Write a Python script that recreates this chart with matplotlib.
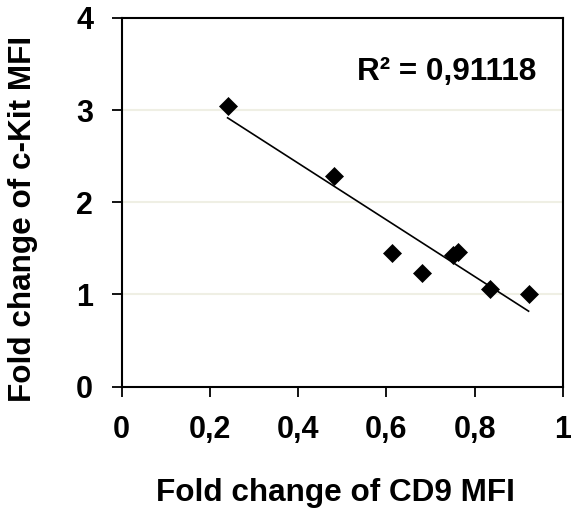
import numpy as np
import matplotlib
matplotlib.use("Agg")
import matplotlib.pyplot as plt

# Fold changes measured per sample
cd9_fold = [0.240, 0.481, 0.612, 0.680, 0.751, 0.762, 0.834, 0.922]
ckit_fold = [3.05, 2.29, 1.455, 1.234, 1.43, 1.46, 1.06, 1.01]

x_ticks = [0, 0.2, 0.4, 0.6, 0.8, 1.0]
x_tick_labels = ["0", "0,2", "0,4", "0,6", "0,8", "1"]
y_ticks = [0, 1, 2, 3, 4]
y_tick_labels = ["0", "1", "2", "3", "4"]
r2_label = "R\u00b2 = 0,91118"

plt.rcParams["font.family"] = ["Liberation Sans", "DejaVu Sans"]
plt.rcParams["font.weight"] = "bold"

fig = plt.figure(figsize=(5.71, 5.13), dpi=100)
ax = fig.add_axes([0.2131, 0.2464, 0.7729, 0.7186])

# light horizontal gridlines
for yv in y_ticks[1:-1]:
    ax.axhline(yv, color="#efefe4", lw=1.5, zorder=0)

ax.plot(cd9_fold, ckit_fold, linestyle="none", marker="D", markersize=9,
        color="black", markeredgewidth=0.5, zorder=3)

# least-squares trend line across the observed range
x = np.array(cd9_fold)
y = np.array(ckit_fold)
slope, intercept = np.polyfit(x, y, 1)
xs = np.array([x.min(), x.max()])
ax.plot(xs, slope * xs + intercept, color="black", lw=1.2, zorder=2)

ax.text(0.5325, 3.41, r2_label, ha="left", va="center",
        fontsize=22.7, fontweight="bold")

ax.set_xlim(0, 1)
ax.set_ylim(0, 4)
ax.set_xticks(x_ticks)
ax.set_xticklabels(x_tick_labels)
ax.set_yticks(y_ticks)
ax.set_yticklabels(y_tick_labels)
ax.tick_params(axis="both", direction="out", length=7.5, width=1.3,
               labelsize=22, pad=13)
for lab in ax.get_xticklabels() + ax.get_yticklabels():
    lab.set_fontweight("bold")
for sp in ax.spines.values():
    sp.set_linewidth(1.5)
    sp.set_color("black")

fig.text(335 / 571, 1 - 493 / 513, "Fold change of CD9 MFI", ha="center",
         va="center", fontsize=22.7, fontweight="bold")
fig.text(23 / 571, 1 - 218.5 / 513, "Fold change of c-Kit MFI", ha="center",
         va="center", rotation=90, fontsize=22.7, fontweight="bold")

fig.savefig("out.png", dpi=100)
